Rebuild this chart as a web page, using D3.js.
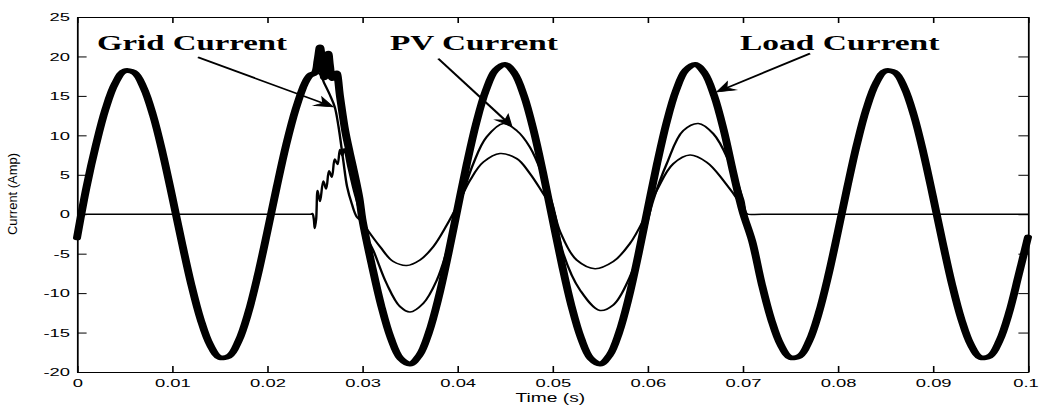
<!DOCTYPE html>
<html>
<head>
<meta charset="utf-8">
<script src="https://cdn.jsdelivr.net/npm/d3@7"></script>
<style>
  html, body { margin: 0; padding: 0; background: #fff; }
  svg { display: block; }
</style>
</head>
<body>
<svg id="chart" width="1040" height="406"></svg>
<script>
// ---------------- data ----------------
const xTicks = [0, 0.01, 0.02, 0.03, 0.04, 0.05, 0.06, 0.07, 0.08, 0.09, 0.1];
const xTickLabels = ["0", "0.01", "0.02", "0.03", "0.04", "0.05", "0.06", "0.07", "0.08", "0.09", "0.1"];
const yTicks = [-20, -15, -10, -5, 0, 5, 10, 15, 20, 25];
const yTickLabels = ["-20", "-15", "-10", "-5", "0", "5", "10", "15", "20", "25"];

const xLabel = "Time (s)";
const yLabel = "Current (Amp)";

// Load current [time (s), current (A)]
const loadCurrent = [
  [0.000, -3.0], [0.001, 3.43], [0.002, 8.82], [0.003, 13.34], [0.004, 16.56], [0.005, 18.16],
  [0.006, 17.98], [0.007, 16.04], [0.008, 12.53], [0.009, 7.79], [0.010, 2.29], [0.011, -3.43],
  [0.012, -8.82], [0.013, -13.34], [0.014, -16.56], [0.015, -18.16], [0.016, -17.98], [0.017, -16.04],
  [0.018, -12.53], [0.019, -7.79], [0.020, -2.29], [0.021, 3.43], [0.022, 8.82], [0.023, 13.34],
  [0.024, 16.7], [0.0245, 17.6], [0.0250, 17.9], [0.0253, 19.5], [0.02555, 21.2], [0.0258, 19.0],
  [0.0260, 17.3], [0.0262, 18.5], [0.02643, 20.4], [0.0266, 18.8], [0.02685, 17.2], [0.0271, 17.4],
  [0.0273, 17.9], [0.02766, 14.9], [0.0282, 10.6], [0.0287, 7.7], [0.0292, 5.0], [0.0297, 2.0],
  [0.0300, -0.6], [0.031, -6.44], [0.032, -11.65], [0.033, -15.71], [0.034, -18.25], [0.035, -18.99],
  [0.036, -17.88], [0.037, -15.01], [0.038, -10.68], [0.039, -5.30], [0.040, 0.60], [0.041, 6.44],
  [0.042, 11.65], [0.043, 15.71], [0.044, 18.25], [0.045, 18.99], [0.046, 17.88], [0.047, 15.01],
  [0.048, 10.68], [0.049, 5.30], [0.050, -0.60], [0.051, -6.44], [0.052, -11.65], [0.053, -15.71],
  [0.054, -18.25], [0.055, -18.99], [0.056, -17.88], [0.057, -15.01], [0.058, -10.68], [0.059, -5.30],
  [0.060, 0.60], [0.061, 6.44], [0.062, 11.65], [0.063, 15.71], [0.064, 18.25], [0.065, 18.99],
  [0.066, 17.88], [0.067, 15.01], [0.068, 10.68], [0.069, 5.30], [0.070, 0.3], [0.071, -3.43],
  [0.072, -8.82], [0.073, -13.34], [0.074, -16.56], [0.075, -18.16], [0.076, -17.98], [0.077, -16.04],
  [0.078, -12.53], [0.079, -7.79], [0.080, -2.29], [0.081, 3.43], [0.082, 8.82], [0.083, 13.34],
  [0.084, 16.56], [0.085, 18.16], [0.086, 17.98], [0.087, 16.04], [0.088, 12.53], [0.089, 7.79],
  [0.090, 2.29], [0.091, -3.43], [0.092, -8.82], [0.093, -13.34], [0.094, -16.56], [0.095, -18.16],
  [0.096, -17.98], [0.097, -16.04], [0.098, -12.53], [0.099, -7.79], [0.100, -2.9]
];

// Grid current [time (s), current (A)]
const gridCurrent = [
  [0.000, -3.0], [0.001, 3.43], [0.002, 8.82], [0.003, 13.34], [0.004, 16.56], [0.005, 18.16],
  [0.006, 17.98], [0.007, 16.04], [0.008, 12.53], [0.009, 7.79], [0.010, 2.29], [0.011, -3.43],
  [0.012, -8.82], [0.013, -13.34], [0.014, -16.56], [0.015, -18.16], [0.016, -17.98], [0.017, -16.04],
  [0.018, -12.53], [0.019, -7.79], [0.020, -2.29], [0.021, 3.43], [0.022, 8.82], [0.023, 13.34],
  [0.024, 16.7], [0.0245, 17.6], [0.0250, 17.9], [0.0255, 17.8], [0.0260, 16.6], [0.0266, 15.1],
  [0.0271, 13.6], [0.0275, 11.1], [0.0280, 6.8], [0.0284, 3.5], [0.0289, 1.3], [0.0294, -0.3],
  [0.0300, -1.0], [0.0305, -1.9], [0.03186, -4.1], [0.03326, -6.0], [0.03467, -6.5], [0.03607, -5.8],
  [0.03747, -4.1], [0.03887, -1.4], [0.0401, 1.35], [0.04133, 4.3], [0.04272, 6.6], [0.04448, 7.7],
  [0.04624, 7.05], [0.04763, 5.15], [0.04903, 2.6], [0.0500, 0.8], [0.0508, -2.2], [0.05254, -5.8],
  [0.05447, -6.9], [0.05639, -6.0], [0.05815, -3.7], [0.05955, -0.76], [0.06096, 3.0], [0.0627, 6.4],
  [0.06446, 7.5], [0.06621, 6.6], [0.06796, 4.3], [0.06972, 1.35], [0.0703, 0.0], [0.071, -3.43],
  [0.072, -8.82], [0.073, -13.34], [0.074, -16.56], [0.075, -18.16], [0.076, -17.98], [0.077, -16.04],
  [0.078, -12.53], [0.079, -7.79], [0.080, -2.29], [0.081, 3.43], [0.082, 8.82], [0.083, 13.34],
  [0.084, 16.56], [0.085, 18.16], [0.086, 17.98], [0.087, 16.04], [0.088, 12.53], [0.089, 7.79],
  [0.090, 2.29], [0.091, -3.43], [0.092, -8.82], [0.093, -13.34], [0.094, -16.56], [0.095, -18.16],
  [0.096, -17.98], [0.097, -16.04], [0.098, -12.53], [0.099, -7.79], [0.100, -2.9]
];

// PV current [time (s), current (A)]
const pvCurrent = [
  [0.000, 0], [0.012, 0], [0.024, 0], [0.0246, 0], [0.02475, 0.1], [0.0249, -0.6], [0.0250, -1.8],
  [0.02515, -0.6], [0.0253, 3.0], [0.02555, 1.6], [0.0259, 4.2], [0.0262, 3.2], [0.0265, 5.5],
  [0.0268, 4.7], [0.0271, 7.0], [0.0274, 6.3], [0.02765, 8.2], [0.0279, 7.4], [0.0281, 8.3],
  [0.0285, 6.2], [0.0290, 3.6], [0.0295, 1.3], [0.0300, -1.0], [0.0305, -3.0], [0.03116, -4.6],
  [0.03256, -8.8], [0.03396, -11.7], [0.03502, -12.4], [0.03641, -11.3], [0.03782, -8.4],
  [0.03922, -3.3], [0.04027, 1.35], [0.04167, 6.4], [0.04308, 9.8], [0.04483, 11.5], [0.04624, 10.6],
  [0.04763, 8.5], [0.04903, 4.7], [0.05008, 0.9], [0.05114, -5.0], [0.05289, -9.6], [0.0550, -12.2],
  [0.05639, -11.5], [0.05815, -7.9], [0.05955, -2.9], [0.0606, 1.8], [0.06201, 6.4], [0.06375, 10.6],
  [0.06533, 11.5], [0.06691, 10.2], [0.06866, 6.4], [0.07006, 1.8], [0.0703, 0.3], [0.0705, 0],
  [0.072, 0], [0.085, 0], [0.100, 0]
];

// Annotations: label, text anchor (t, i), arrow start (t, i), arrow tip (t, i)
const annotationLabels = ["Grid Current", "PV Current", "Load Current"];
const annotationText = [[0.0021, 20.8], [0.03291, 20.8], [0.06972, 20.85]];
const annotationFrom = [[0.01272, 19.9], [0.03799, 19.73], [0.07708, 20.37]];
const annotationTo = [[0.02695, 13.6], [0.04571, 11.15], [0.06727, 15.5]];

// ---------------- layout ----------------
// The reference image is horizontally stretched; draw in a narrower frame and stretch it.
const STRETCH = 1.6;
const margin = { left: 48.125, right: 642.5, top: 17, bottom: 372 };
const labelWidths = [118.8, 105, 124.6];

const svg = d3.select("#chart");
svg.append("rect").attr("width", 1040).attr("height", 406).attr("fill", "#fff");
const root = svg.append("g").attr("transform", `scale(${STRETCH},1)`);

const x = d3.scaleLinear().domain([0, 0.1]).range([margin.left, margin.right]);
const y = d3.scaleLinear().domain([-20, 25]).range([margin.bottom, margin.top]);

const fontSans = "'Liberation Sans', Arial, Helvetica, sans-serif";
const fontSerif = "'Liberation Serif', 'Times New Roman', Times, serif";

// ---------------- series ----------------
const line = d3.line()
  .x(d => x(d[0]))
  .y(d => y(d[1]))
  .curve(d3.curveCatmullRom.alpha(0.5));

const plot = root.append("g");
plot.append("path").datum(gridCurrent)
  .attr("d", line).attr("fill", "none").attr("stroke", "#000")
  .attr("stroke-width", 1.5).attr("stroke-linejoin", "round");
plot.append("path").datum(pvCurrent)
  .attr("d", line).attr("fill", "none").attr("stroke", "#000")
  .attr("stroke-width", 1.5).attr("stroke-linejoin", "round");
plot.append("path").datum(loadCurrent)
  .attr("d", line).attr("fill", "none").attr("stroke", "#000")
  .attr("stroke-width", 5).attr("stroke-linejoin", "round").attr("stroke-linecap", "round");

// ---------------- axes ----------------
const fmtX = d => xTickLabels[xTicks.indexOf(d)];
const fmtY = d => yTickLabels[yTicks.indexOf(d)];

const gx = root.append("g").attr("transform", `translate(0,${margin.bottom})`)
  .call(d3.axisBottom(x).tickValues(xTicks).tickFormat(fmtX).tickSizeInner(-6).tickSizeOuter(0).tickPadding(6.5));
const gxTop = root.append("g").attr("transform", `translate(0,${margin.top})`)
  .call(d3.axisTop(x).tickValues(xTicks).tickFormat("").tickSizeInner(-6).tickSizeOuter(0));
const gy = root.append("g").attr("transform", `translate(${margin.left},0)`)
  .call(d3.axisLeft(y).tickValues(yTicks).tickFormat(fmtY).tickSizeInner(-6).tickSizeOuter(0).tickPadding(4.4));
const gyRight = root.append("g").attr("transform", `translate(${margin.right},0)`)
  .call(d3.axisRight(y).tickValues(yTicks).tickFormat("").tickSizeInner(-6).tickSizeOuter(0));

[gx, gxTop, gy, gyRight].forEach(g => {
  g.select(".domain").attr("stroke", "#000").attr("stroke-width", 1.1);
  g.selectAll(".tick line").attr("stroke", "#000").attr("stroke-width", 1);
  g.selectAll(".tick text").attr("fill", "#000")
    .attr("font-family", fontSans).attr("font-size", 11.5);
});
// keep the last x label inside the picture (reference shows it hugging the edge)
gx.selectAll(".tick text").filter(d => d === xTicks[xTicks.length - 1])
  .attr("text-anchor", "end").attr("dx", 6.2);

// axis titles
root.append("text")
  .attr("x", (margin.left + margin.right) / 2 - 1.3)
  .attr("y", 402)
  .attr("text-anchor", "middle")
  .attr("font-family", fontSans).attr("font-size", 12).attr("fill", "#000")
  .text(xLabel);

root.append("text")
  .attr("transform", `translate(10.5,194) rotate(-90)`)
  .attr("text-anchor", "middle")
  .attr("font-family", fontSans).attr("font-size", 8).attr("fill", "#000")
  .attr("textLength", 82).attr("lengthAdjust", "spacingAndGlyphs")
  .text(yLabel);

// ---------------- annotations ----------------
const ann = root.append("g");
annotationLabels.forEach((lbl, i) => {
  ann.append("text")
    .attr("x", x(annotationText[i][0]))
    .attr("y", y(annotationText[i][1]))
    .attr("font-family", fontSerif).attr("font-weight", "bold").attr("font-size", 21)
    .attr("textLength", labelWidths[i]).attr("lengthAdjust", "spacingAndGlyphs")
    .attr("fill", "#000")
    .text(lbl);

  const x0 = x(annotationFrom[i][0]), y0 = y(annotationFrom[i][1]);
  const x1 = x(annotationTo[i][0]), y1 = y(annotationTo[i][1]);
  const dx = x1 - x0, dy = y1 - y0, len = Math.hypot(dx, dy);
  const ux = dx / len, uy = dy / len, px = -uy, py = ux;
  const headLen = 11, halfW = 4.8, notch = 3.5;
  const bx = x1 - ux * headLen, by = y1 - uy * headLen;
  const nx = x1 - ux * (headLen - notch), ny = y1 - uy * (headLen - notch);

  ann.append("line")
    .attr("x1", x0).attr("y1", y0).attr("x2", nx).attr("y2", ny)
    .attr("stroke", "#000").attr("stroke-width", 1.6);
  ann.append("path")
    .attr("d", `M${x1},${y1}L${bx + px * halfW},${by + py * halfW}L${nx},${ny}L${bx - px * halfW},${by - py * halfW}Z`)
    .attr("fill", "#000").attr("stroke", "#000").attr("stroke-width", 0.8).attr("stroke-linejoin", "miter");
});
</script>
</body>
</html>
